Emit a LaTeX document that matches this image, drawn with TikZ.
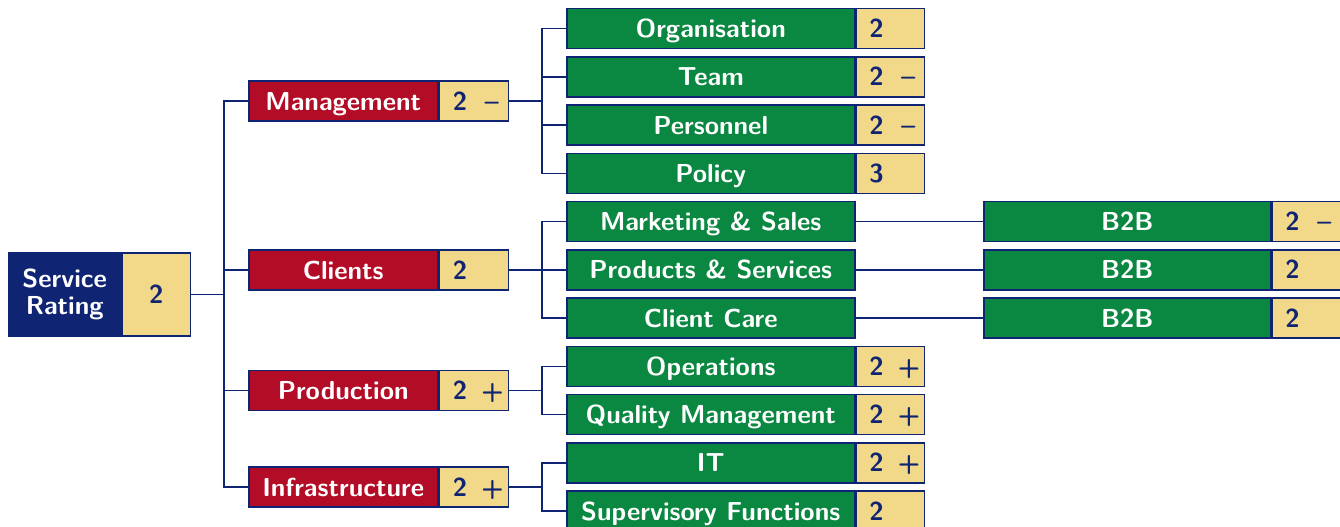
\documentclass[tikz,border=0pt]{standalone}
\usepackage{fontspec}
\usetikzlibrary{positioning}
\definecolor{navy}{HTML}{0F2473}
\definecolor{rred}{HTML}{B20C26}
\definecolor{ggreen}{HTML}{0A8741}
\definecolor{yel}{HTML}{F2D98A}
\tikzset{
  base/.style={draw=navy, line width=0.75pt, inner sep=0pt, minimum height=20pt,
    text height=9.2pt, text depth=0pt,
    font=\sffamily\bfseries\fontsize{13}{15.5}\selectfont},
  rootlab/.style={base, fill=navy, text=white, minimum width=56pt, minimum height=41.5pt, align=center, anchor=west, text height=, text depth=},
  rootval/.style={base, fill=yel, text=navy, minimum width=34pt, minimum height=41.5pt, anchor=west},
  lonelab/.style={base, fill=rred, text=white, minimum width=94.5pt, anchor=west},
  ltwolab/.style={base, fill=ggreen, text=white, minimum width=144pt, anchor=west},
  lthreelab/.style={base, fill=ggreen, text=white, minimum width=143.5pt, anchor=west},
  valbox/.style={base, fill=yel, text=navy, minimum width=34pt, inner xsep=6.5pt, anchor=west},
  conn/.style={draw=navy, line width=0.75pt},
}
\newcommand{\vv}[1]{\makebox[21pt][l]{#1}}
\newcommand{\vminus}{\vv{2\hspace{0.68em}–}}
\newcommand{\vplus}{\vv{2\hspace{0.55em}+}}
\newcommand{\vsimple}[1]{\vv{#1}}
\begin{document}
\begin{tikzpicture}[x=0.5pt,y=-0.5pt]
\useasboundingbox (0,0) rectangle (1340,526);
% root
\node[rootlab] (rl) at (8,294.5) {Service\\[-2pt]Rating};
\node[rootval] (rv) at (rl.east) {2};
% level 1
\node[lonelab] (mg) at (248,101) {Management};
\node[valbox, minimum width=34.5pt] (mgv) at (mg.east) {\vminus};
\node[lonelab] (cl) at (248,270) {Clients};
\node[valbox, minimum width=34.5pt] (clv) at (cl.east) {\vsimple{2}};
\node[lonelab] (pr) at (248,390.5) {Production};
\node[valbox, minimum width=34.5pt] (prv) at (pr.east) {\vplus};
\node[lonelab] (in) at (248,487) {Infrastructure};
\node[valbox, minimum width=34.5pt] (inv) at (in.east) {\vplus};
% level 2
\node[ltwolab] (org) at (566,28.5) {Organisation};
\node[valbox] (orgv) at (org.east) {\vsimple{2}};
\node[ltwolab] (team) at (566,76.75) {Team};
\node[valbox] (teamv) at (team.east) {\vminus};
\node[ltwolab] (pers) at (566,125) {Personnel};
\node[valbox] (persv) at (pers.east) {\vminus};
\node[ltwolab] (pol) at (566,173.25) {Policy};
\node[valbox] (polv) at (pol.east) {\vsimple{3}};
\node[ltwolab] (mks) at (566,221.5) {Marketing \& Sales};
\node[ltwolab] (pns) at (566,269.75) {Products \& Services};
\node[ltwolab] (cc) at (566,318) {Client Care};
\node[ltwolab] (ops) at (566,366.25) {Operations};
\node[valbox] (opsv) at (ops.east) {\vplus};
\node[ltwolab] (qm) at (566,414.5) {Quality Management};
\node[valbox] (qmv) at (qm.east) {\vplus};
\node[ltwolab] (it) at (566,462.75) {IT};
\node[valbox] (itv) at (it.east) {\vplus};
\node[ltwolab] (sup) at (566,511) {Supervisory Functions};
\node[valbox] (supv) at (sup.east) {\vsimple{2}};
% level 3
\node[lthreelab] (ba) at (983,221.5) {B2B};
\node[valbox] (bav) at (ba.east) {\vminus};
\node[lthreelab] (bb) at (983,269.75) {B2B};
\node[valbox] (bbv) at (bb.east) {\vsimple{2}};
\node[lthreelab] (bc) at (983,318) {B2B};
\node[valbox] (bcv) at (bc.east) {\vsimple{2}};
% connectors
\foreach \t in {mg,cl,pr,in}
  \draw[conn] (rv.east) -- ++(16.5pt,0) |- (\t.west);
\foreach \t in {org,team,pers,pol}
  \draw[conn] (mgv.east) -- ++(16.5pt,0) |- (\t.west);
\foreach \t in {mks,pns,cc}
  \draw[conn] (clv.east) -- ++(16.5pt,0) |- (\t.west);
\foreach \t in {ops,qm}
  \draw[conn] (prv.east) -- ++(16.5pt,0) |- (\t.west);
\foreach \t in {it,sup}
  \draw[conn] (inv.east) -- ++(16.5pt,0) |- (\t.west);
\draw[conn] (mks.east) -- (ba.west);
\draw[conn] (pns.east) -- (bb.west);
\draw[conn] (cc.east) -- (bc.west);
\end{tikzpicture}
\end{document}
